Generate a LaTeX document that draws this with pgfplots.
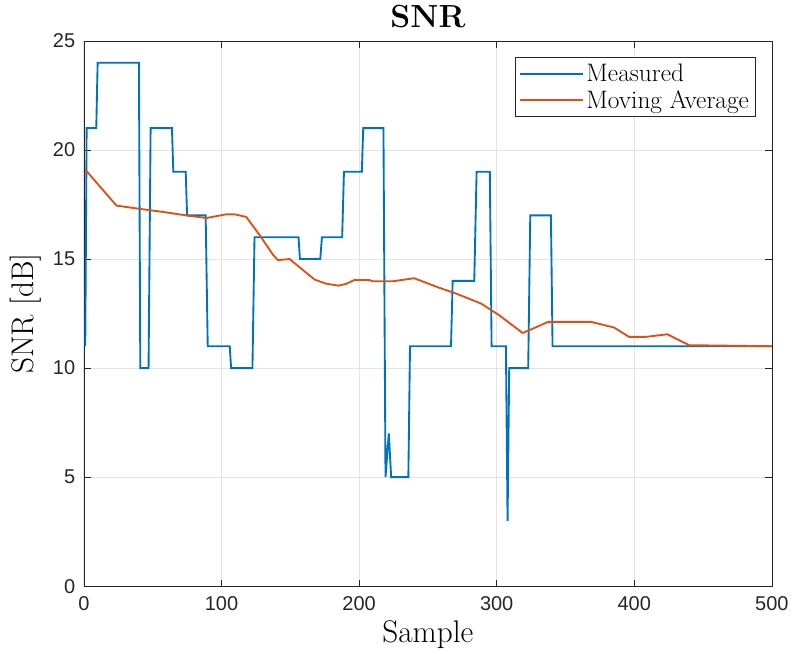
\documentclass[border=0pt]{standalone}
\usepackage{fontspec}
\usepackage{pgfplots}
\pgfplotsset{compat=1.18}
\newfontfamily\tickfont{Liberation Sans}
\definecolor{mblue}{RGB}{0,114,189}
\definecolor{morange}{RGB}{217,83,25}
\definecolor{axgray}{RGB}{38,38,38}
\begin{document}
\begin{tikzpicture}
\begin{axis}[
  scale only axis,
  width=516.75pt, height=409.5pt,
  xmin=0, xmax=500, ymin=0, ymax=25,
  xtick={0,100,200,300,400,500},
  ytick={0,5,10,15,20,25},
  tick align=inside,
  major tick length=5pt,
  axis line style={axgray, line width=0.5pt},
  tick style={axgray, line width=0.5pt},
  grid=major,
  grid style={gray!22, line width=0.6pt},
  /pgf/number format/assume math mode=true,
  ticklabel style={font=\fontsize{15}{18}\tickfont, color=axgray},
  xticklabel style={yshift=-4pt},
  yticklabel style={xshift=-3pt},
  title={\textbf{SNR}},
  title style={font=\fontsize{24}{28}\selectfont, yshift=0pt},
  xlabel={Sample},
  ylabel={SNR [dB]},
  xlabel style={font=\fontsize{23.5}{27}\selectfont, yshift=-1pt},
  ylabel style={font=\fontsize{23.5}{27}\selectfont, yshift=2pt},
  legend style={at={(1,1)}, anchor=north east, xshift=-12pt, yshift=-12pt,
    font=\fontsize{19}{22}\selectfont, draw=axgray, line width=0.5pt,
    inner xsep=3pt, inner ysep=3pt, row sep=1pt},
  legend cell align=left,
  legend image code/.code={\draw[#1, line width=1.4pt] (0pt,0pt) -- (47pt,0pt);},
  clip=false,
]
\addplot[mblue, line width=1.4pt] coordinates {
(1,11) (2,21) (9,21) (10,24) (40,24) (41,10) (47,10) (48.5,21) (64,21) (65,19)
(74,19) (75,17) (88.5,17) (90,11) (106,11) (107,10) (122.5,10) (124,16) (156,16)
(157,15) (171.8,15) (173,16) (187.7,16) (189,19) (202,19) (203,21) (217.7,21)
(219.2,5) (221.6,7) (223.3,5) (235.8,5) (237,11) (266.8,11) (268,14) (283.7,14)
(285.4,19) (295,19) (296.3,11) (306.7,11) (307.9,3) (309.1,10) (322.9,10)
(324.4,17) (339.4,17) (340.6,11) (500,11)
};
\addlegendentry{Measured}
\addplot[morange, line width=1.4pt] coordinates {
(1,19.1) (23.7,17.45) (40.6,17.3) (56.4,17.17) (74.5,17.0) (89,16.88)
(103.5,17.05) (109.6,17.05) (118,16.93) (127.7,16.1) (137.4,15.2) (141,14.95)
(149.5,15.0) (167.6,14.06) (176,13.87) (185,13.78) (190.6,13.86) (196.7,14.04)
(207.5,14.04) (210,13.98) (224.5,13.98) (240,14.12) (258.3,13.68) (270.4,13.42)
(288.6,12.96) (301.9,12.42) (318.8,11.61) (324.9,11.77) (337.5,12.12)
(368.4,12.12) (385.3,11.86) (396.2,11.43) (408.3,11.43) (424,11.55)
(439.8,11.05) (500,11)
};
\addlegendentry{Moving Average}
\end{axis}
\useasboundingbox ([shift={(-63pt,-50.25pt)}]current axis.south west) rectangle ([shift={(531.75pt,440.25pt)}]current axis.south west);
\end{tikzpicture}
\end{document}
